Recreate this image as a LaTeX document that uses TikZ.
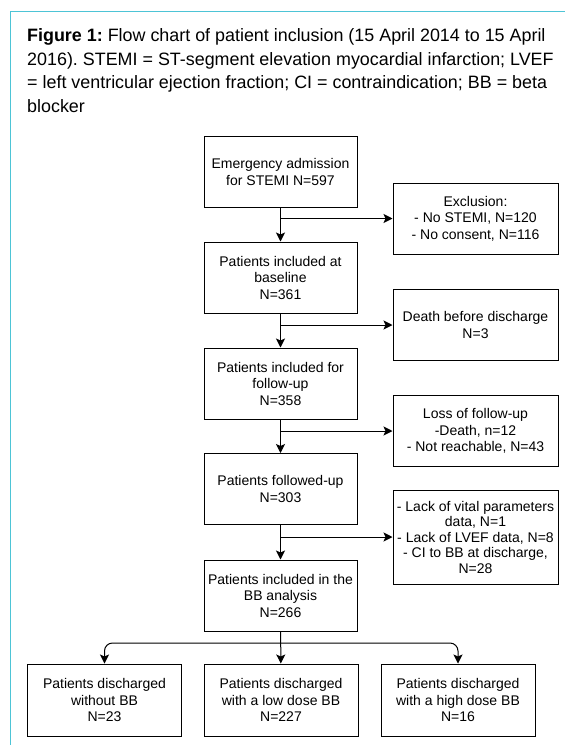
\documentclass[tikz,border=0pt]{standalone}
\usepackage{fontspec}
\setmainfont{Liberation Sans}
\usetikzlibrary{arrows.meta}
\definecolor{framecyan}{RGB}{77,196,214}
\frenchspacing

\begin{document}
\begin{tikzpicture}[x=1pt, y=-1pt,
	every node/.style={font=\fontsize{14}{16.5}\selectfont, align=center, inner sep=0pt},
	mainbox/.style={draw=black, line width=1pt, minimum width=153pt, minimum height=71pt},
	sidebox/.style={draw=black, line width=1pt, minimum width=165pt, minimum height=71pt},
	endbox/.style={draw=black, line width=1pt, minimum width=154pt, minimum height=72pt},
	arr/.style={draw=black, line width=1pt, -{Stealth[length=9pt, width=9pt, inset=2pt]}}]
			\useasboundingbox (0,0) rectangle (565,745);
			\draw[framecyan, line width=1.3pt] (10.7,745) -- (10.7,11.7) -- (565,11.7);
			
			\node[anchor=north west, align=left, font=\fontsize{17.9}{23.5}\selectfont] (caption) at (27,28.5)
			{\textbf{Figure 1:} Flow chart of patient inclusion (15 April 2014 to 15 April\\
			2016). STEMI = ST-segment elevation myocardial infarction; LVEF\\
			= left ventricular ejection fraction; CI = contraindication; BB = beta\\
			blocker};
			
			\node[mainbox] (admit) at (280.5,172){Emergency admission\\for STEMI N=597};
			\node[mainbox] (base) at (280.5,277.5){Patients included at\\baseline\\N=361};
			\node[mainbox] (follow) at (280.5,383.5){Patients included for\\follow-up\\N=358};
			\node[mainbox] (followed) at (280.5,489){Patients followed-up\\N=303};
			\node[mainbox] (bbana) at (280.5,595.5){Patients included in the\\BB analysis\\N=266};
			
			\node[sidebox] (excl) at (475.5,218.5){Exclusion:\\- No STEMI, N=120\\- No consent, N=116};
			\node[sidebox] (death) at (475.5,325){Death before discharge\\N=3};
			\node[sidebox] (loss) at (475.5,431){Loss of follow-up\\-Death, n=12\\- Not reachable, N=43};
			\node[sidebox, minimum height=94pt, font=\fontsize{14}{15.5}\selectfont] (lack) at (475.5,537)
			{- Lack of vital parameters\\data, N=1\\- Lack of LVEF data, N=8\\- CI to BB at discharge,\\N=28};
			
			\node[endbox] (nobb) at (104.5,700){Patients discharged\\without BB\\N=23};
			\node[endbox] (lowbb) at (281,700){Patients discharged\\with a low dose BB\\N=227};
			\node[endbox] (highbb) at (458,700){Patients discharged\\with a high dose BB\\N=16};
			
			\draw[arr] (admit) -- (base);
			\draw[arr] (base) -- (follow);
			\draw[arr] (follow) -- (followed);
			\draw[arr] (followed) -- (bbana);
			\draw[arr] (bbana) -- (lowbb);
			
			\draw[arr] (admit.south |- excl.west) -- (excl.west);
			\draw[arr] (base.south |- death.west) -- (death.west);
			\draw[arr] (follow.south |- loss.west) -- (loss.west);
			\draw[arr] (followed.south |- lack.west) -- (lack.west);
			
			\coordinate (split) at (280.5,643);
			\draw[arr, rounded corners=8pt] (split) -| (nobb.north);
			\draw[arr, rounded corners=8pt] (split) -| (highbb.north);
			\end{tikzpicture}
\end{document}
